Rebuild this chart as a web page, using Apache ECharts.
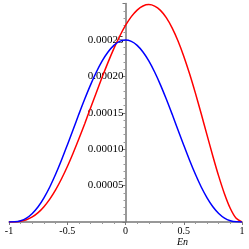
<!DOCTYPE html>
<html>
<head>
<meta charset="utf-8">
<script src="https://cdn.jsdelivr.net/npm/echarts@6/dist/echarts.min.js"></script>
<style>
html,body{margin:0;padding:0;background:#fff;}
#chart{width:249px;height:249px;}
</style>
</head>
<body>
<div id="chart"></div>
<script>
// x positions (En)
const xs = [-1,-0.95,-0.9,-0.85,-0.8,-0.75,-0.7,-0.65,-0.6,-0.55,-0.5,-0.45,-0.4,-0.35,-0.3,-0.25,-0.2,-0.15,-0.1,-0.05,
  0,0.05,0.1,0.15,0.2,0.25,0.3,0.35,0.4,0.45,0.5,0.55,0.6,0.65,0.7,0.75,0.8,0.85,0.9,0.95,1];
// blue curve values
const blueVals = [0,0.02e-5,0.17e-5,0.53e-5,1.17e-5,2.09e-5,3.32e-5,4.81e-5,6.55e-5,8.48e-5,10.55e-5,12.68e-5,14.82e-5,16.89e-5,18.84e-5,20.60e-5,22.12e-5,23.35e-5,24.26e-5,24.81e-5,
  25.00e-5,24.81e-5,24.26e-5,23.35e-5,22.12e-5,20.60e-5,18.84e-5,16.89e-5,14.82e-5,12.68e-5,10.55e-5,8.48e-5,6.55e-5,4.81e-5,3.32e-5,2.09e-5,1.17e-5,0.53e-5,0.17e-5,0.02e-5,0];
// red curve values
const redVals = [0,0.01e-5,0.10e-5,0.31e-5,0.70e-5,1.29e-5,2.11e-5,3.15e-5,4.42e-5,5.91e-5,7.59e-5,9.45e-5,11.43e-5,13.51e-5,15.65e-5,17.80e-5,19.91e-5,21.93e-5,23.82e-5,25.52e-5,
  27.00e-5,28.21e-5,29.11e-5,29.67e-5,29.86e-5,29.66e-5,29.07e-5,28.07e-5,26.67e-5,24.90e-5,22.78e-5,20.36e-5,17.70e-5,14.86e-5,11.94e-5,9.04e-5,6.30e-5,3.85e-5,1.85e-5,0.50e-5,0];
const xAxisName = 'En';

const chart = echarts.init(document.getElementById('chart'), null, {renderer:'canvas'});
const serif = '"Liberation Serif", "DejaVu Serif", serif';
const gridLeft = 9, gridRight = 7;
const plotW = 249 - gridLeft - gridRight;
chart.setOption({
  animation:false,
  backgroundColor:'#fff',
  grid:{left:gridLeft,right:gridRight,top:3.6,bottom:27,containLabel:false,outerBoundsMode:'none'},
  xAxis:{
    type:'value',min:-1,max:1,interval:0.5,
    axisLine:{onZero:false,lineStyle:{color:'#777',width:1.5}},
    axisTick:{show:true,length:3,lineStyle:{color:'#777'}},
    minorTick:{show:true,splitNumber:5,length:2,lineStyle:{color:'#999'}},
    splitLine:{show:false},
    axisLabel:{fontFamily:serif,fontSize:10,color:'#000',margin:4}
  },
  yAxis:{
    type:'value',min:0,max:0.0003,interval:0.00005,
    offset:-plotW/2,
    axisLine:{onZero:false,lineStyle:{color:'#777',width:1.5}},
    axisTick:{show:true,length:3,lineStyle:{color:'#777'}},
    minorTick:{show:true,splitNumber:5,length:2,lineStyle:{color:'#999'}},
    splitLine:{show:false},
    axisLabel:{fontFamily:serif,fontSize:11,color:'#000',margin:2,
      formatter:function(v){ return (v<=0 || v>0.00028) ? '' : v.toFixed(5); }}
  },
  graphic:[{type:'text',left:177,top:237,style:{text:xAxisName,font:'italic 10px '+serif,fill:'#000'}}],
  series:[
    {type:'line',data:xs.map((x,i)=>[x,redVals[i]]),smooth:0.3,showSymbol:false,lineStyle:{color:'#ff0000',width:1.5},z:2},
    {type:'line',data:xs.map((x,i)=>[x,blueVals[i]]),smooth:0.3,showSymbol:false,lineStyle:{color:'#0000ff',width:1.5},z:3}
  ]
});
</script>
</body>
</html>
